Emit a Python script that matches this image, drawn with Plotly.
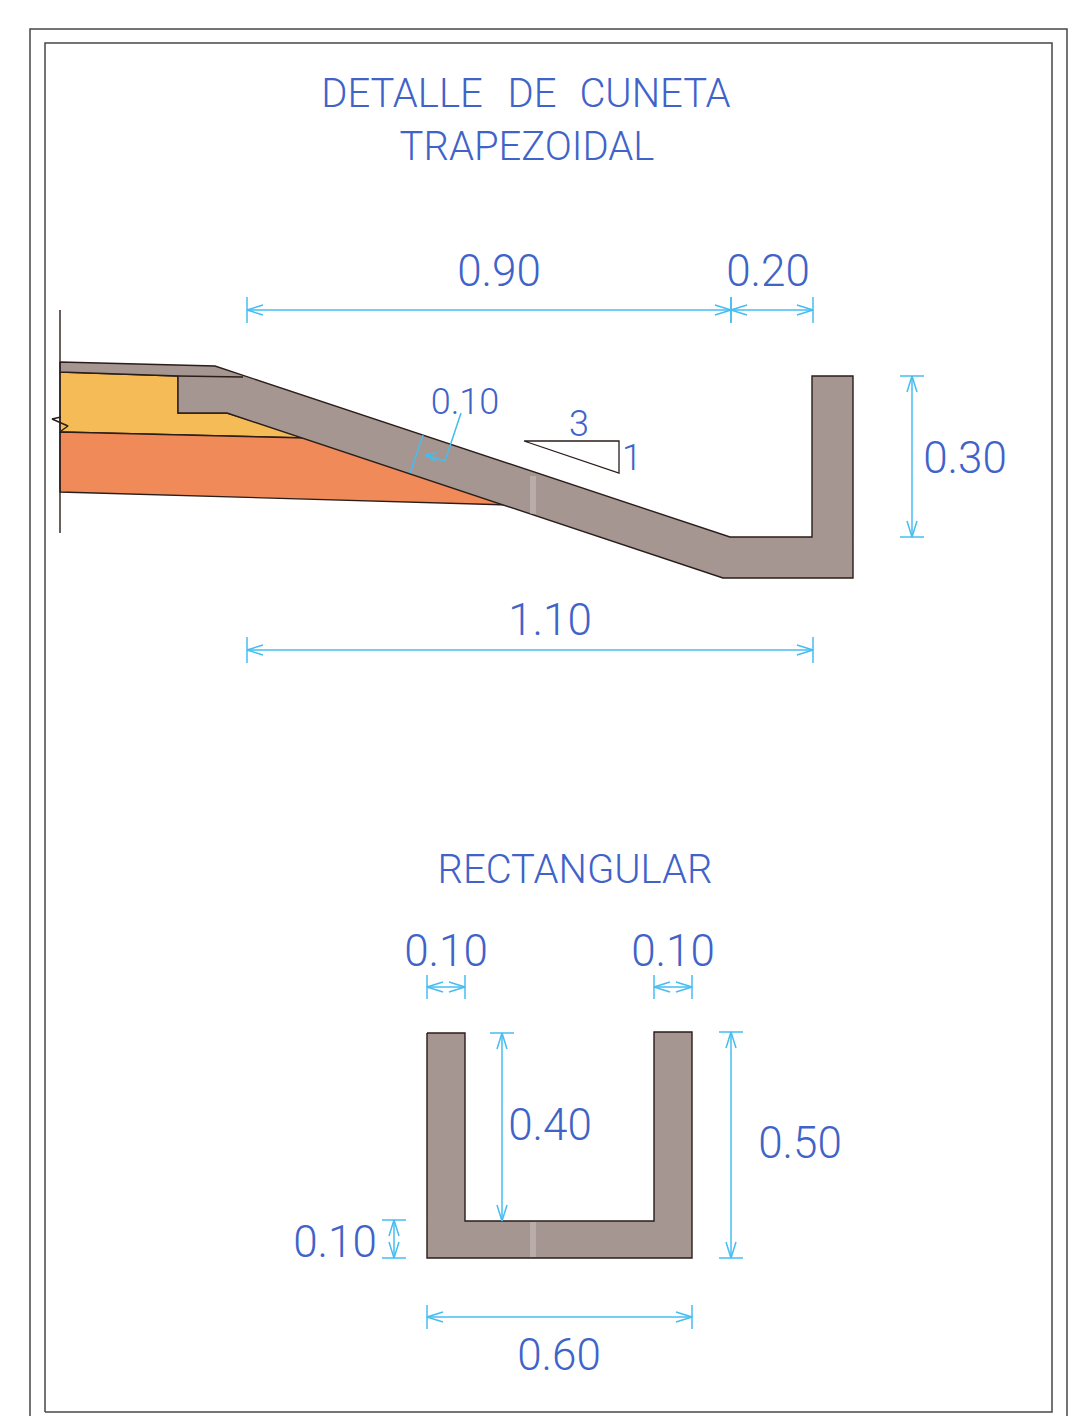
import plotly.graph_objects as go

# Drawing data, in sheet units (top-left origin)
concrete_top_x = [60, 215, 730, 812, 812, 853, 853, 723, 227, 178, 178, 60, 60]
concrete_top_y = [362, 366, 537, 537, 376, 376, 578, 578, 413, 413, 376, 372, 362]
base_x = [60, 178, 178, 227, 307, 60, 60]
base_y = [372, 376, 413, 413, 438, 432, 372]
subbase_x = [60, 307, 510, 60, 60]
subbase_y = [432, 438, 505, 492, 432]
channel_x = [427, 465, 465, 654, 654, 692, 692, 427, 427]
channel_y = [1033, 1033, 1221, 1221, 1032, 1032, 1258, 1258, 1033]
slope_x = [524, 619, 619, 524]
slope_y = [441, 441, 473, 441]

# Black edge lines
edge_x = [178, 243, None, 60, 60, None, 61, 52, 68, 61]
edge_y = [376, 377, None, 310, 533, None, 417, 419, 426, 431]

# Sheet border
outer_x = [30, 30, 1067, 1067]
outer_y = [1416, 29, 29, 1416]
inner_x = [45, 45, 1052, 1052, 45]
inner_y = [1412, 43, 43, 1412, 1412]

# Dimensions: start, end, fixed position, tick half length
h_dims = [
    (247, 731, 310, 13), (731, 813, 310, 13), (247, 813, 650, 13),
    (427, 465, 987, 12), (654, 692, 987, 12), (427, 692, 1317, 12),
]
v_dims = [
    (376, 537, 912, 12), (1033, 1221, 502, 12),
    (1032, 1258, 731, 12), (1220, 1258, 394, 12),
]
no_end_tick = [(1033, 1221, 502, 12)]
leader_x = [423, 410, None, 461, 445, 425, None, 425, 437, None, 425, 436]
leader_y = [435, 473, None, 413, 461, 455, None, 455, 453, None, 455, 461]

# Scan streaks
streak_x = [533, 533, None, 533, 533]
streak_y = [476, 514, None, 1222, 1257]

# Labels
title_labels = ["DETALLE", "DE", "CUNETA", "TRAPEZOIDAL", "RECTANGULAR"]
title_x = [402, 532, 655, 527, 575]
title_y = [97, 97, 97, 150, 873]
dim_labels = ["0.90", "0.20", "0.30", "1.10", "0.10", "0.10", "0.40", "0.50", "0.10", "0.60"]
dim_x = [499, 768, 965, 550, 446, 673, 550, 800, 335, 559]
dim_y = [275, 275, 462, 624, 955, 955, 1129, 1147, 1246, 1359]
small_labels = ["0.10", "3", "1"]
small_x = [465, 579, 632]
small_y = [405, 427, 461]

CONCRETE = "#a59692"
YELLOW = "#f4bb56"
ORANGE = "#f08a58"
CYAN = "#45bdf0"
BLUE = "#3f63c9"
EDGE = "#2a1d1a"

FONT = "Roboto"


def build_dims():
    xs, ys = [], []
    al, aw = 16, 5
    for a, b, p, t in h_dims:
        xs += [a, b, None, a, a, None, b, b, None]
        ys += [p, p, None, p - t, p + t, None, p - t, p + t, None]
        xs += [a + al, a, a + al, None, b - al, b, b - al, None]
        ys += [p - aw, p, p + aw, None, p - aw, p, p + aw, None]
    for a, b, p, t in v_dims:
        xs += [p, p, None, p - t, p + t, None]
        ys += [a, b, None, a, a, None]
        if (a, b, p, t) not in no_end_tick:
            xs += [p - t, p + t, None]
            ys += [b, b, None]
        xs += [p - aw, p, p + aw, None, p - aw, p, p + aw, None]
        ys += [a + al, a, a + al, None, b - al, b, b - al, None]
    return xs, ys


def poly(x, y, color, edge=EDGE, w=1.4):
    return go.Scatter(x=x, y=y, mode="lines", fill="toself", fillcolor=color,
                      line=dict(color=edge, width=w), hoverinfo="skip", showlegend=False)


def lines(x, y, color, w):
    return go.Scatter(x=x, y=y, mode="lines", line=dict(color=color, width=w),
                      hoverinfo="skip", showlegend=False)


def texts(x, y, t, size):
    return go.Scatter(x=x, y=y, text=t, mode="text", textposition="middle center",
                      textfont=dict(family=FONT, size=size, color=BLUE, weight=300),
                      hoverinfo="skip", showlegend=False)


fig = go.Figure()
fig.add_trace(lines(outer_x, outer_y, "#4a4543", 1.5))
fig.add_trace(lines(inner_x, inner_y, "#4a4543", 1.5))
fig.add_trace(poly(base_x, base_y, YELLOW))
fig.add_trace(poly(subbase_x, subbase_y, ORANGE))
fig.add_trace(poly(concrete_top_x, concrete_top_y, CONCRETE))
fig.add_trace(poly(channel_x, channel_y, CONCRETE))
fig.add_trace(poly(slope_x, slope_y, "#ffffff", w=1.3))
fig.add_trace(lines(edge_x, edge_y, EDGE, 1.4))
fig.add_trace(lines(streak_x, streak_y, "rgba(215,208,205,0.4)", 6))
dx, dy = build_dims()
fig.add_trace(lines(dx, dy, CYAN, 1.5))
fig.add_trace(lines(leader_x, leader_y, CYAN, 1.5))
fig.add_trace(texts(title_x, title_y, title_labels, 40))
fig.add_trace(texts(dim_x, dim_y, dim_labels, 44))
fig.add_trace(texts(small_x, small_y, small_labels, 36))

fig.update_layout(
    width=1082, height=1416, margin=dict(l=0, r=0, t=0, b=0),
    paper_bgcolor="#ffffff", plot_bgcolor="#ffffff", showlegend=False,
    xaxis=dict(range=[0, 1082], visible=False, fixedrange=True),
    yaxis=dict(range=[1416, 0], visible=False, fixedrange=True),
)
fig.write_html("out.html", config={"displayModeBar": False},
               post_script="document.body.style.margin='0';document.body.style.overflow='hidden';")
